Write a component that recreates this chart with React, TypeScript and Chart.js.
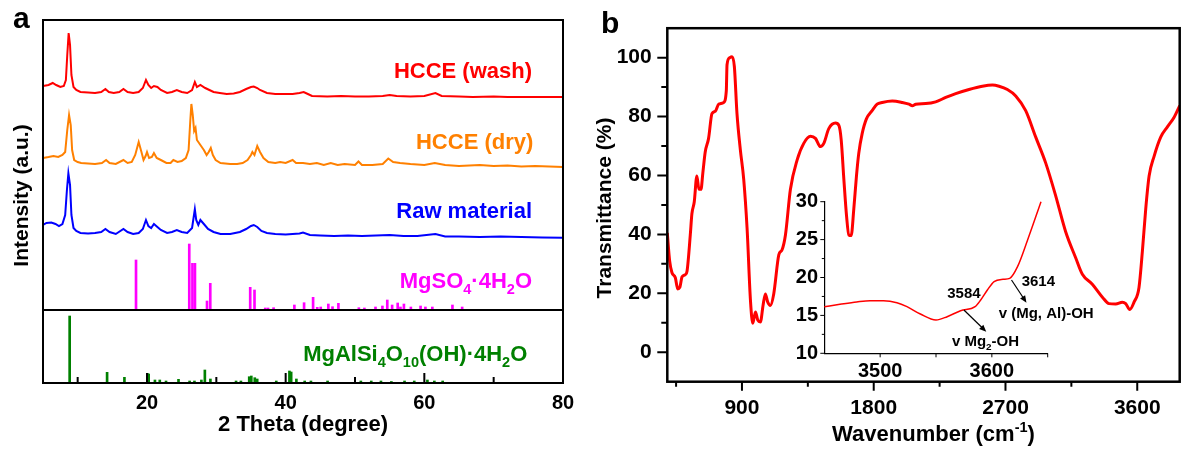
import React, { useEffect, useRef } from "react";
import { Chart, registerables } from "chart.js";

Chart.register(...registerables);

const FONT = '"Liberation Sans", Arial, Helvetica, sans-serif';
Chart.defaults.font.family = FONT;

const RED = "#ff0000";
const ORANGE = "#ff8000";
const BLUE = "#0000ff";
const MAGENTA = "#ff00ff";
const GREEN = "#008000";

// ---------------- Panel a : XRD (2θ in degree, intensity a.u.) ----------------
const XRD_WASH: [number, number][] = [
  [5.0, 224], [5.8, 225], [6.4, 227], [6.9, 225], [7.5, 223], [8.0, 224], [8.3, 230], [8.5, 255],
  [8.7, 277], [8.9, 265], [9.1, 235], [9.4, 223], [9.8, 220], [10.4, 218], [11.5, 217.5], [12.5, 217],
  [13.4, 218], [14.0, 221], [14.5, 218], [15.2, 217], [16.0, 218], [16.6, 221], [17.2, 218], [18.0, 217],
  [18.8, 218], [19.4, 222], [19.85, 230], [20.2, 225], [20.6, 222], [21.0, 224], [21.5, 223], [22.0, 220],
  [22.9, 217], [23.6, 218], [24.3, 220], [25.0, 218], [25.8, 217], [26.5, 220], [26.9, 228], [27.2, 223],
  [27.7, 225], [28.4, 222], [29.0, 220], [29.6, 218], [30.5, 217], [31.5, 216], [32.5, 216.5], [33.4, 218],
  [34.3, 221], [35.0, 223], [35.4, 223.5], [35.9, 222], [36.3, 220], [37.3, 217], [38.5, 216], [40.0, 216],
  [41.0, 216], [42.0, 217], [42.6, 218], [43.2, 216], [43.8, 214], [46.0, 213.5], [48.0, 214], [50.0, 213.5],
  [52.0, 213.5], [54.0, 214], [55.0, 215], [56.0, 214], [58.0, 213.5], [60.0, 214], [61.6, 217], [62.5, 214],
  [65.0, 213.5], [67.0, 213], [70.0, 213.5], [72.0, 213], [75.0, 213], [78.0, 213], [80.0, 213],
];

const XRD_DRY: [number, number][] = [
  [5.0, 152], [5.8, 153], [6.5, 154], [7.2, 153], [7.8, 155], [8.2, 158], [8.5, 180], [8.76, 195],
  [9.0, 185], [9.2, 160], [9.5, 150], [10.0, 148], [10.5, 147], [11.5, 146.5], [12.5, 146], [13.5, 147],
  [14.1, 150], [14.6, 147], [15.5, 146], [16.6, 150], [17.2, 147], [17.8, 148], [18.3, 155], [18.8, 168],
  [19.2, 158], [19.5, 150], [19.8, 154], [20.0, 158], [20.3, 152], [20.7, 153], [21.0, 157], [21.4, 152],
  [22.0, 150], [22.8, 147], [23.4, 147], [23.8, 150], [24.4, 148], [25.0, 149], [25.6, 152], [26.0, 160],
  [26.25, 190], [26.4, 206], [26.6, 195], [26.8, 179], [27.0, 182], [27.2, 170], [27.7, 165], [28.2, 160],
  [28.6, 155], [28.9, 158], [29.2, 162], [29.5, 155], [29.9, 150], [30.6, 147], [32.0, 146], [33.0, 146],
  [33.8, 147], [34.5, 150], [35.0, 155], [35.2, 158], [35.5, 155], [35.9, 164], [36.3, 158], [36.8, 152],
  [37.5, 148], [38.5, 147], [39.2, 148], [40.0, 147], [41.0, 150], [41.5, 147], [42.5, 147], [43.5, 146],
  [44.5, 147], [45.5, 145], [46.5, 147], [47.5, 145], [48.5, 146], [50.0, 145], [50.5, 148.5], [51.0, 145],
  [52.5, 145], [54.0, 146], [54.8, 151.5], [55.5, 148], [56.5, 147], [58.0, 146], [60.0, 145], [61.5, 147],
  [63.0, 145], [65.0, 144], [68.0, 145], [70.0, 144], [72.0, 144.5], [74.0, 143.5], [76.0, 144], [78.0, 143.5],
  [80.0, 143],
];

const XRD_RAW: [number, number][] = [
  [5.0, 85], [5.5, 87], [6.2, 87.5], [6.8, 86], [7.3, 84], [7.8, 86], [8.2, 95], [8.45, 120],
  [8.66, 136.7], [8.9, 125], [9.1, 95], [9.4, 82], [9.8, 79], [10.4, 77], [11.5, 76.5], [12.5, 77],
  [13.4, 78], [14.0, 81], [14.6, 78], [15.5, 76], [16.6, 81], [17.2, 78], [18.0, 76], [18.8, 77],
  [19.4, 81], [19.85, 90], [20.2, 84], [20.6, 82], [21.0, 86], [21.5, 83], [22.0, 80], [22.9, 77],
  [23.6, 78], [24.3, 80], [25.0, 78], [25.8, 77], [26.5, 82], [26.9, 100.7], [27.1, 90], [27.4, 85],
  [27.7, 90], [28.2, 86], [28.8, 81], [29.6, 78], [30.6, 76], [32.0, 76], [33.4, 78], [34.3, 81],
  [35.0, 84], [35.4, 85], [35.9, 83], [36.5, 79], [37.3, 77], [38.5, 76], [40.0, 75.5], [41.0, 76],
  [42.0, 76.5], [42.5, 77.5], [43.5, 75], [45.0, 74.5], [47.0, 74], [49.0, 74.5], [51.0, 74], [53.0, 74.5],
  [55.0, 75], [57.0, 74], [59.0, 74], [61.6, 76], [63.0, 73.5], [65.0, 73.5], [68.0, 73], [71.0, 73.5],
  [74.0, 73], [77.0, 72.5], [80.0, 72.3],
];

// reference stick patterns [2θ, relative intensity]
const REF_MGSO4: [number, number][] = [
  [18.56, 50], [26.24, 66], [26.7, 46.7], [27.06, 46.7], [28.8, 9], [29.27, 26.7], [35.03, 22.7],
  [35.65, 20], [37.2, 2], [37.6, 2], [38.4, 2.3], [41.4, 5], [42.8, 7.3], [44.1, 12.7], [44.7, 2.7],
  [45.2, 3], [46.3, 6], [46.9, 3.3], [47.75, 6.7], [50.7, 2.3], [51.5, 2], [53.1, 3], [54.1, 4],
  [54.8, 10], [55.5, 5], [56.3, 7], [56.7, 3], [57.2, 6], [58.2, 3], [59.6, 4], [60.3, 3], [61.3, 3],
  [64.2, 5], [65.6, 3],
];

const REF_CLAY: [number, number][] = [
  [8.7, 67], [14.1, 10.7], [16.6, 5.7], [19.9, 9.7], [20.1, 9], [21.0, 3], [21.7, 3], [22.6, 2],
  [24.4, 3.7], [26.0, 2], [26.7, 2], [27.7, 3], [28.2, 13], [29.0, 4], [32.7, 2], [33.4, 2],
  [34.6, 6.3], [34.9, 7], [35.4, 5.3], [35.75, 4], [38.5, 2], [40.4, 12], [40.65, 11], [41.4, 4],
  [42.6, 2], [43.5, 2], [45.9, 2], [50.7, 2], [52.2, 2], [53.6, 2], [55.1, 1.5], [57.0, 2],
  [58.4, 2], [60.3, 3], [61.3, 2], [62.5, 2],
];

const XRD_TICK_LABELS = [20, 40, 60, 80];
const XRD_TICK_MARKS = [10, 20, 30, 40, 50, 60, 70];

// ---------------- Panel b : FTIR ----------------
const FTIR: [number, number][] = [
  [390, 40.5], [406, 31], [422, 27], [445, 25.3], [461, 21.5], [475, 22], [491, 25.6], [514, 26.4],
  [525, 27.6], [547, 39.8], [558, 47], [574, 51], [592, 59.8], [606, 55.3], [620, 55.3], [633, 61],
  [649, 68], [672, 72.6], [695, 81], [718, 81.8], [741, 84.2], [775, 84.8], [793, 88.7], [798, 97.6],
  [816, 100], [832, 100.3], [848, 97], [866, 81], [889, 68.7], [912, 58.7], [935, 42], [958, 17.6],
  [974, 9.8], [992, 13.7], [1008, 10.9], [1026, 10.3], [1044, 15.9], [1060, 19.8], [1076, 17], [1094, 15.9],
  [1117, 19.8], [1152, 33.1], [1174, 34.8], [1197, 39.8], [1231, 55.3], [1277, 65.3], [1322, 70.9], [1368, 73.3],
  [1402, 72.6], [1436, 69.8], [1459, 70.9], [1493, 75.9], [1539, 77.8], [1562, 77], [1578, 72], [1596, 58.7],
  [1614, 46.5], [1630, 39.8], [1646, 39.6], [1664, 48.7], [1682, 59.8], [1698, 67.6], [1721, 74.2], [1750, 79.2],
  [1789, 82], [1823, 84.2], [1858, 84.8], [1927, 85.3], [1995, 84.8], [2041, 84.2], [2064, 83.7], [2087, 84.2],
  [2155, 84.4], [2223, 85], [2292, 86.5], [2360, 87.8], [2451, 89.2], [2542, 90.3], [2611, 90.7], [2656, 90.3],
  [2713, 89.2], [2770, 87], [2838, 82], [2906, 73.1], [2975, 64.2], [3043, 53.1], [3111, 40.9], [3180, 32],
  [3225, 26.5], [3293, 23.1], [3362, 18.7], [3407, 16.5], [3453, 16.4], [3498, 17], [3521, 16.5], [3549, 14.5],
  [3578, 17], [3612, 22], [3635, 34.2], [3658, 48.7], [3681, 59.8], [3715, 66.5], [3761, 73.1], [3806, 76.5],
  [3852, 79.8], [3890, 83.7],
];

const FTIR_INSET: [number, number][] = [
  [3450, 16.15], [3464, 16.46], [3479, 16.77], [3491, 16.94], [3503, 16.94], [3515, 16.68], [3524, 16.15],
  [3536, 15.18], [3550, 14.39], [3560, 14.83], [3572, 15.62], [3585, 16.15], [3590, 17.03], [3596, 18.35],
  [3602, 19.45], [3610, 19.76], [3616, 19.89], [3623, 21.43], [3632, 24.95], [3644, 30],
];

const FTIR_X_LABELS = [900, 1800, 2700, 3600];
const FTIR_X_MARKS = [450, 900, 1350, 1800, 2250, 2700, 3150, 3600];
const FTIR_Y_LABELS = [0, 20, 40, 60, 80, 100];
const FTIR_Y_MARKS = [0, 10, 20, 30, 40, 50, 60, 70, 80, 90, 100];
const INSET_X_LABELS = [3500, 3600];
const INSET_X_MARKS = [3500, 3550, 3600, 3650];
const INSET_Y_LABELS = [10, 15, 20, 25, 30];
const INSET_Y_MARKS = [10, 12.5, 15, 17.5, 20, 22.5, 25, 27.5, 30];

type Seg = [string, ("sub" | "sup")?];

const INSET_NOTES: { segs: Seg[]; x: number; y: number }[] = [
  { segs: [["3584"]], x: 3575, y: 17.9 },
  { segs: [["3614"]], x: 3641.6, y: 19.45 },
  { segs: [["v (Mg, Al)-OH"]], x: 3648.6, y: 15.15 },
  { segs: [["v Mg"], ["2", "sub"], ["-OH"]], x: 3594.3, y: 11.53 },
];
const INSET_ARROWS: { from: [number, number]; to: [number, number] }[] = [
  { from: [3575, 15.71], to: [3595, 12.85] },
  { from: [3617.6, 19.67], to: [3631, 16.68] },
];

// ---------------- helpers ----------------
function drawRich(
  ctx: CanvasRenderingContext2D,
  segs: Seg[],
  x: number,
  y: number,
  size: number,
  color: string,
  align: "left" | "center" | "right" = "center",
  rot = 0
) {
  ctx.save();
  ctx.translate(x, y);
  if (rot) ctx.rotate(rot);
  ctx.fillStyle = color;
  ctx.textBaseline = "middle";
  ctx.textAlign = "left";
  const small = size * 0.66;
  const fontFor = (s?: string) => `bold ${s ? small : size}px ${FONT}`;
  let total = 0;
  const widths = segs.map(([t, s]) => {
    ctx.font = fontFor(s);
    const w = ctx.measureText(t).width;
    total += w;
    return w;
  });
  let cx = align === "left" ? 0 : align === "right" ? -total : -total / 2;
  segs.forEach(([t, s], i) => {
    ctx.font = fontFor(s);
    const dy = s === "sub" ? size * 0.36 : s === "sup" ? -size * 0.33 : 0;
    ctx.fillText(t, cx, dy);
    cx += widths[i];
  });
  ctx.restore();
}

const pts = (arr: [number, number][]) => arr.map(([x, y]) => ({ x, y }));

const tickFont = (size: number) => ({ family: FONT, size, weight: "bold" as const });

// ---------------- Panel a ----------------
const panelAPlugin = {
  id: "panelA",
  afterDraw(chart: any) {
    const { ctx, chartArea: a, scales } = chart;
    const x = scales.x;
    const y = scales.y;
    ctx.save();
    ctx.strokeStyle = "#000";
    ctx.lineWidth = 2;
    ctx.strokeRect(a.left, a.top, a.right - a.left, a.bottom - a.top);
    const yd = y.getPixelForValue(0);
    ctx.beginPath();
    ctx.moveTo(a.left, yd);
    ctx.lineTo(a.right, yd);
    ctx.stroke();
    ctx.beginPath();
    for (const v of XRD_TICK_MARKS) {
      const px = x.getPixelForValue(v);
      const len = XRD_TICK_LABELS.includes(v) ? 10 : 6;
      ctx.moveTo(px, a.bottom);
      ctx.lineTo(px, a.bottom - len);
    }
    ctx.stroke();
    ctx.restore();

    drawRich(ctx, [["HCCE (wash)"]], 532, 71.7, 22, RED, "right");
    drawRich(ctx, [["HCCE (dry)"]], 533.3, 143.3, 22, ORANGE, "right");
    drawRich(ctx, [["Raw material"]], 532, 211.7, 22, BLUE, "right");
    drawRich(ctx, [["MgSO"], ["4", "sub"], ["·4H"], ["2", "sub"], ["O"]], 532, 281.7, 22, MAGENTA, "right");
    drawRich(
      ctx,
      [["MgAlSi"], ["4", "sub"], ["O"], ["10", "sub"], ["(OH)·4H"], ["2", "sub"], ["O"]],
      527.3, 355, 22, GREEN, "right"
    );
    drawRich(ctx, [["2 Theta (degree)"]], 303, 425, 22, "#000", "center");
    drawRich(ctx, [["Intensity (a.u.)"]], 22, 195.5, 21, "#000", "center", -Math.PI / 2);
    ctx.save();
    ctx.fillStyle = "#000";
    ctx.font = `bold 30px ${FONT}`;
    ctx.textBaseline = "alphabetic";
    ctx.textAlign = "left";
    ctx.fillText("a", 13, 28.3);
    ctx.restore();
  },
};

function makePanelA(): any {
  return {
    type: "line",
    data: {
      datasets: [
        { label: "HCCE (wash)", data: pts(XRD_WASH), borderColor: RED, borderWidth: 2, pointRadius: 0, tension: 0, xAxisID: "x", yAxisID: "y" },
        { label: "HCCE (dry)", data: pts(XRD_DRY), borderColor: ORANGE, borderWidth: 2, pointRadius: 0, tension: 0, xAxisID: "x", yAxisID: "y" },
        { label: "Raw material", data: pts(XRD_RAW), borderColor: BLUE, borderWidth: 2, pointRadius: 0, tension: 0, xAxisID: "x", yAxisID: "y" },
        { type: "bar", label: "MgSO4·4H2O", data: pts(REF_MGSO4), backgroundColor: MAGENTA, borderWidth: 0, barThickness: 2, xAxisID: "x", yAxisID: "y" },
        { type: "bar", label: "MgAlSi4O10(OH)·4H2O", data: pts(REF_CLAY), backgroundColor: GREEN, borderWidth: 0, barThickness: 2, xAxisID: "x2", yAxisID: "y2" },
      ],
    },
    options: {
      animation: false,
      responsive: false,
      devicePixelRatio: 1,
      layout: { padding: { left: 43, top: 20, right: 37, bottom: 0 } },
      plugins: { legend: { display: false }, tooltip: { enabled: false } },
      scales: {
        x: {
          type: "linear", min: 5, max: 80, offset: false,
          grid: { display: false, drawTicks: false }, border: { display: false },
          ticks: { font: tickFont(20), color: "#000", padding: 8, autoSkip: false, maxRotation: 0, callback: (v: any) => String(v) },
          afterBuildTicks: (s: any) => { s.ticks = XRD_TICK_LABELS.map((v) => ({ value: v })); },
          afterFit: (s: any) => { s.height = 70; },
        },
        x2: { type: "linear", min: 5, max: 80, offset: false, display: false },
        y: { type: "linear", min: -73, max: 290, display: false },
        y2: { type: "linear", min: 0, max: 363, display: false },
      },
    },
    plugins: [panelAPlugin],
  };
}

// ---------------- Panel b ----------------
const panelBPlugin = {
  id: "panelB",
  afterDraw(chart: any) {
    const { ctx, chartArea: a, scales } = chart;
    const x = scales.x;
    const y = scales.y;
    ctx.save();
    ctx.strokeStyle = "#000";
    ctx.lineWidth = 2.5;
    ctx.strokeRect(a.left, a.top, a.right - a.left, a.bottom - a.top);
    ctx.lineWidth = 2;
    ctx.beginPath();
    for (const v of FTIR_Y_MARKS) {
      const py = y.getPixelForValue(v);
      const len = FTIR_Y_LABELS.includes(v) ? 10 : 6;
      ctx.moveTo(a.left, py);
      ctx.lineTo(a.left - len, py);
    }
    for (const v of FTIR_X_MARKS) {
      const px = x.getPixelForValue(v);
      const len = FTIR_X_LABELS.includes(v) ? 9 : 5;
      ctx.moveTo(px, a.bottom);
      ctx.lineTo(px, a.bottom + len);
    }
    ctx.stroke();
    ctx.restore();

    drawRich(ctx, [["Wavenumber (cm"], ["-1", "sup"], [")"]], 343.5, 435, 22, "#000", "center");
    drawRich(ctx, [["Transmittance (%)"]], 15.7, 208, 21, "#000", "center", -Math.PI / 2);
    ctx.save();
    ctx.fillStyle = "#000";
    ctx.font = `bold 30px ${FONT}`;
    ctx.textBaseline = "alphabetic";
    ctx.textAlign = "left";
    ctx.fillText("b", 11, 33.3);
    ctx.restore();
  },
};

function makePanelB(): any {
  return {
    type: "line",
    data: {
      datasets: [
        { label: "FTIR", data: pts(FTIR), borderColor: RED, borderWidth: 3, pointRadius: 0, cubicInterpolationMode: "monotone" },
      ],
    },
    options: {
      animation: false,
      responsive: false,
      devicePixelRatio: 1,
      layout: { padding: { left: 0, top: 22.7, right: 2.3, bottom: 0 } },
      plugins: { legend: { display: false }, tooltip: { enabled: false } },
      scales: {
        x: {
          type: "linear", min: 390, max: 3890,
          grid: { display: false, drawTicks: false }, border: { display: false },
          ticks: { font: tickFont(21), color: "#000", padding: 14, autoSkip: false, maxRotation: 0, callback: (v: any) => String(v) },
          afterBuildTicks: (s: any) => { s.ticks = FTIR_X_LABELS.map((v) => ({ value: v })); },
          afterFit: (s: any) => { s.height = 71.3; },
        },
        y: {
          type: "linear", min: -10, max: 110,
          grid: { display: false, drawTicks: false }, border: { display: false },
          ticks: { font: tickFont(21), color: "#000", padding: 15.6, autoSkip: false, callback: (v: any) => String(v) },
          afterBuildTicks: (s: any) => { s.ticks = FTIR_Y_LABELS.map((v) => ({ value: v })); },
          afterFit: (s: any) => { s.width = 77.3; },
        },
      },
    },
    plugins: [panelBPlugin],
  };
}

// ---------------- Inset ----------------
const insetPlugin = {
  id: "inset",
  afterDraw(chart: any) {
    const { ctx, chartArea: a, scales } = chart;
    const x = scales.x;
    const y = scales.y;
    ctx.save();
    ctx.strokeStyle = "#000";
    ctx.lineWidth = 1;
    ctx.beginPath();
    for (const v of INSET_Y_MARKS) {
      const py = y.getPixelForValue(v);
      const len = INSET_Y_LABELS.includes(v) ? 4 : 2.5;
      ctx.moveTo(a.left, py);
      ctx.lineTo(a.left - len, py);
    }
    for (const v of INSET_X_MARKS) {
      const px = x.getPixelForValue(v);
      ctx.moveTo(px, a.bottom);
      ctx.lineTo(px, a.bottom + 4);
    }
    ctx.stroke();

    for (const ar of INSET_ARROWS) {
      const x1 = x.getPixelForValue(ar.from[0]);
      const y1 = y.getPixelForValue(ar.from[1]);
      const x2 = x.getPixelForValue(ar.to[0]);
      const y2 = y.getPixelForValue(ar.to[1]);
      const ang = Math.atan2(y2 - y1, x2 - x1);
      const hl = 7;
      const hw = 3;
      ctx.beginPath();
      ctx.moveTo(x1, y1);
      ctx.lineTo(x2 - Math.cos(ang) * hl * 0.8, y2 - Math.sin(ang) * hl * 0.8);
      ctx.lineWidth = 1.2;
      ctx.stroke();
      ctx.beginPath();
      ctx.moveTo(x2, y2);
      ctx.lineTo(x2 - Math.cos(ang) * hl - Math.sin(ang) * hw, y2 - Math.sin(ang) * hl + Math.cos(ang) * hw);
      ctx.lineTo(x2 - Math.cos(ang) * hl + Math.sin(ang) * hw, y2 - Math.sin(ang) * hl - Math.cos(ang) * hw);
      ctx.closePath();
      ctx.fillStyle = "#000";
      ctx.fill();
    }
    ctx.restore();

    for (const n of INSET_NOTES) {
      drawRich(ctx, n.segs, x.getPixelForValue(n.x), y.getPixelForValue(n.y), 15, "#000", "center");
    }
  },
};

function makeInset(): any {
  return {
    type: "line",
    data: {
      datasets: [
        { label: "FTIR (3450–3650)", data: pts(FTIR_INSET), borderColor: RED, borderWidth: 1.5, pointRadius: 0, cubicInterpolationMode: "monotone", clip: 4 },
      ],
    },
    options: {
      animation: false,
      responsive: false,
      devicePixelRatio: 1,
      layout: { padding: { left: 0, top: 21.7, right: 62.3, bottom: 0 } },
      plugins: { legend: { display: false }, tooltip: { enabled: false } },
      scales: {
        x: {
          type: "linear", min: 3450, max: 3650,
          grid: { display: false, drawTicks: false }, border: { display: true, color: "#000", width: 1.2 },
          ticks: { font: tickFont(20), color: "#000", padding: 6.4, autoSkip: false, maxRotation: 0, callback: (v: any) => String(v) },
          afterBuildTicks: (s: any) => { s.ticks = INSET_X_LABELS.map((v) => ({ value: v })); },
          afterFit: (s: any) => { s.height = 36.7; },
        },
        y: {
          type: "linear", min: 10, max: 30,
          grid: { display: false, drawTicks: false }, border: { display: true, color: "#000", width: 1.2 },
          ticks: { font: tickFont(20), color: "#000", padding: 6.3, autoSkip: false, callback: (v: any) => String(v) },
          afterBuildTicks: (s: any) => { s.ticks = INSET_Y_LABELS.map((v) => ({ value: v })); },
          afterFit: (s: any) => { s.width = 54.3; },
        },
      },
    },
    plugins: [insetPlugin],
  };
}

// ---------------- React ----------------
function ChartBox({ left, top, width, height, make }: { left: number; top: number; width: number; height: number; make: () => any }) {
  const ref = useRef<HTMLCanvasElement | null>(null);
  useEffect(() => {
    if (!ref.current) return;
    const chart = new Chart(ref.current, make());
    return () => chart.destroy();
  }, []);
  return (
    <canvas
      ref={ref}
      width={width}
      height={height}
      style={{ position: "absolute", left, top, width, height, display: "block" }}
    />
  );
}

export default function App() {
  return (
    <div style={{ position: "fixed", left: 0, top: 0, width: 1182, height: 453, background: "#fff", overflow: "hidden" }}>
      <ChartBox left={0} top={0} width={600} height={453} make={makePanelA} />
      <ChartBox left={590} top={0} width={592} height={453} make={makePanelB} />
      <ChartBox left={770} top={180} width={340} height={210} make={makeInset} />
    </div>
  );
}
